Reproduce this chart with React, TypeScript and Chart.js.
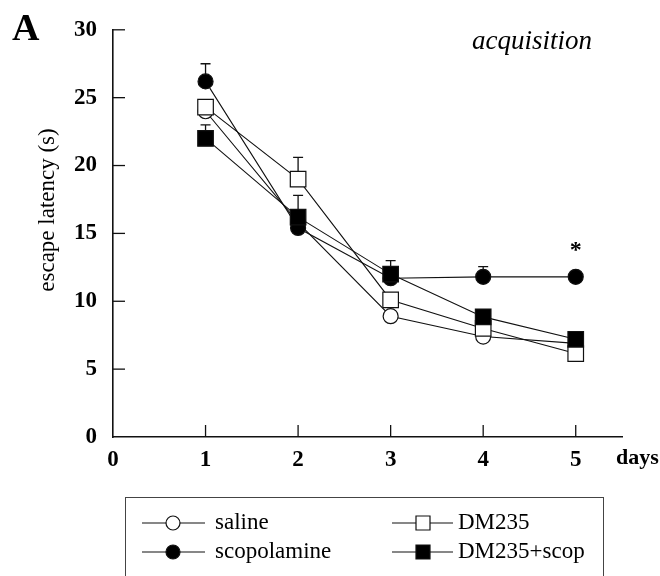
import React, { useEffect, useRef } from "react";
import { Chart, registerables } from "chart.js";

Chart.register(...registerables);

const days = [1, 2, 3, 4, 5];
const xTickValues = [0, 1, 2, 3, 4, 5];
const yTickValues = [0, 5, 10, 15, 20, 25, 30];

const saline = [24.0, 15.8, 8.9, 7.4, 6.9];
const dm235 = [24.3, 19.0, 10.1, 8.0, 6.15];
const scopolamine = [26.2, 15.4, 11.7, 11.8, 11.8];
const dm235Scop = [22.0, 16.2, 12.0, 8.85, 7.2];

const salineErr = [0, 0, 0, 0, 0];
const dm235Err = [0, 1.6, 0, 0, 0];
const scopolamineErr = [1.3, 0, 0, 0.75, 0];
const dm235ScopErr = [1.0, 1.6, 1.0, 0, 0];

const scopolamineMarks = ["", "", "", "", "*"];

const seriesNames = ["saline", "DM235", "scopolamine", "DM235+scop"];

const SERIF = "'Liberation Serif', 'Times New Roman', serif";

const toXY = (vals: number[]) => days.map((d, i) => ({ x: d, y: vals[i] }));

export default function App() {
  const ref = useRef<HTMLCanvasElement | null>(null);

  useEffect(() => {
    const canvas = ref.current;
    if (!canvas) return;

    const errs = [salineErr, dm235Err, scopolamineErr, dm235ScopErr];
    const vals = [saline, dm235, scopolamine, dm235Scop];

    const errorBars = {
      id: "errorBars",
      beforeDatasetsDraw(chart: any) {
        const { ctx, scales } = chart;
        const xs = scales.x;
        const ys = scales.y;
        ctx.save();
        ctx.strokeStyle = "#111";
        ctx.lineWidth = 1.3;
        vals.forEach((v, si) => {
          v.forEach((val, j) => {
            const e = errs[si][j];
            if (!e) return;
            const px = xs.getPixelForValue(days[j]);
            const y0 = ys.getPixelForValue(val);
            const y1 = ys.getPixelForValue(val + e);
            ctx.beginPath();
            ctx.moveTo(px, y0);
            ctx.lineTo(px, y1);
            ctx.moveTo(px - 5, y1);
            ctx.lineTo(px + 5, y1);
            ctx.stroke();
          });
        });
        ctx.restore();
      },
    };

    const decorations = {
      id: "decorations",
      afterDraw(chart: any) {
        const { ctx, scales, chartArea } = chart;
        const xs = scales.x;
        const ys = scales.y;
        ctx.save();
        // inward tick marks
        ctx.strokeStyle = "#111";
        ctx.lineWidth = 1.3;
        yTickValues.forEach((t) => {
          if (t === 0) return;
          const py = ys.getPixelForValue(t);
          ctx.beginPath();
          ctx.moveTo(chartArea.left, py);
          ctx.lineTo(chartArea.left + 12, py);
          ctx.stroke();
        });
        xTickValues.forEach((t) => {
          if (t === 0) return;
          const px = xs.getPixelForValue(t);
          ctx.beginPath();
          ctx.moveTo(px, chartArea.bottom);
          ctx.lineTo(px, chartArea.bottom - 12);
          ctx.stroke();
        });

        ctx.fillStyle = "#000";
        // panel letter
        ctx.font = `bold 38px ${SERIF}`;
        ctx.textAlign = "left";
        ctx.textBaseline = "alphabetic";
        ctx.fillText("A", 12, 40);

        // acquisition
        ctx.font = `italic 27px ${SERIF}`;
        ctx.textAlign = "left";
        ctx.textBaseline = "middle";
        ctx.fillText("acquisition", 472, 42);

        // days
        ctx.font = `bold 22px ${SERIF}`;
        ctx.textAlign = "left";
        ctx.textBaseline = "middle";
        ctx.fillText("days", 616, 458);

        // significance marks
        ctx.font = `bold 24px ${SERIF}`;
        ctx.textAlign = "center";
        scopolamineMarks.forEach((m, j) => {
          if (!m) return;
          const px = xs.getPixelForValue(days[j]);
          const py = ys.getPixelForValue(scopolamine[j]);
          ctx.fillText(m, px, py - 26);
        });

        // y title
        ctx.save();
        ctx.translate(48, 210);
        ctx.rotate(-Math.PI / 2);
        ctx.font = `23px ${SERIF}`;
        ctx.textAlign = "center";
        ctx.textBaseline = "middle";
        ctx.fillText("escape latency (s)", 0, 0);
        ctx.restore();

        // legend box
        ctx.strokeStyle = "#444";
        ctx.lineWidth = 1;
        ctx.strokeRect(125.5, 497.5, 478, 100);

        const dsets = chart.data.datasets;
        const slots = [
          { lx: 142, rx: 205, mx: 173, tx: 215, y: 523 },
          { lx: 392, rx: 453, mx: 423, tx: 458, y: 523 },
          { lx: 142, rx: 205, mx: 173, tx: 215, y: 552 },
          { lx: 392, rx: 453, mx: 423, tx: 458, y: 552 },
        ];
        seriesNames.forEach((name, i) => {
          const s = slots[i];
          const ds = dsets.find((d: any) => d.label === name);
          ctx.strokeStyle = "#111";
          ctx.lineWidth = 1.2;
          ctx.beginPath();
          ctx.moveTo(s.lx, s.y);
          ctx.lineTo(s.rx, s.y);
          ctx.stroke();
          ctx.fillStyle = ds.pointBackgroundColor;
          ctx.beginPath();
          if (ds.pointStyle === "circle") {
            ctx.arc(s.mx, s.y, 7, 0, Math.PI * 2);
          } else {
            ctx.rect(s.mx - 7, s.y - 7, 14, 14);
          }
          ctx.fill();
          ctx.stroke();
          ctx.fillStyle = "#000";
          ctx.font = `23px ${SERIF}`;
          ctx.textAlign = "left";
          ctx.textBaseline = "middle";
          ctx.fillText(name, s.tx, s.y);
        });
        ctx.restore();
      },
    };

    const mk = (label: string, data: number[], style: string, fill: string, order: number) => ({
      label,
      data: toXY(data),
      borderColor: "#111",
      borderWidth: 1.1,
      pointStyle: style,
      pointRadius: style === "circle" ? 7.5 : 11,
      pointBackgroundColor: fill,
      pointBorderColor: "#111",
      pointBorderWidth: 1.2,
      fill: false,
      tension: 0,
      order,
    });

    const chart = new Chart(canvas, {
      type: "line",
      data: {
        datasets: [
          mk(seriesNames[0], saline, "circle", "#fff", 3),
          mk(seriesNames[1], dm235, "rect", "#fff", 2),
          mk(seriesNames[2], scopolamine, "circle", "#000", 1),
          mk(seriesNames[3], dm235Scop, "rect", "#000", 0),
        ] as any,
      },
      options: {
        animation: false,
        responsive: false,
        maintainAspectRatio: false,
        layout: { padding: { top: 23, right: 38, left: 0, bottom: 0 } },
        plugins: {
          legend: { display: false },
          tooltip: { enabled: false },
          title: { display: false },
        },
        scales: {
          x: {
            type: "linear",
            min: 0,
            max: 5.5,
            grid: { display: false, drawTicks: false },
            border: { display: true, color: "#111", width: 1.6 },
            afterBuildTicks: (scale: any) => {
              scale.ticks = xTickValues.map((v) => ({ value: v }));
            },
            afterFit: (scale: any) => {
              scale.height = 139;
            },
            ticks: {
              padding: 9,
              color: "#000",
              font: { family: SERIF, size: 23, weight: "bold" },
              callback: (v: any) => String(v),
            },
          },
          y: {
            type: "linear",
            min: 0,
            max: 30,
            grid: { display: false, drawTicks: false },
            border: { display: true, color: "#111", width: 1.6 },
            afterBuildTicks: (scale: any) => {
              scale.ticks = yTickValues.map((v) => ({ value: v }));
            },
            afterFit: (scale: any) => {
              scale.width = 113;
            },
            ticks: {
              padding: 16,
              color: "#000",
              font: { family: SERIF, size: 23, weight: "bold" },
              callback: (v: any) => String(v),
            },
          },
        },
      } as any,
      plugins: [errorBars, decorations],
    });

    return () => chart.destroy();
  }, []);

  return (
    <div style={{ position: "absolute", left: 0, top: 0, width: 660, height: 576, background: "#fff" }}>
      <canvas ref={ref} width={660} height={576} style={{ display: "block", width: 660, height: 576 }} />
    </div>
  );
}
